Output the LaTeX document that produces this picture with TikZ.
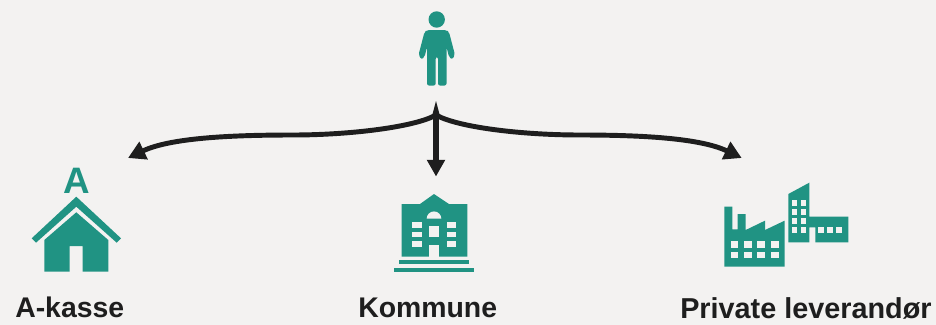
\documentclass[tikz,border=0pt]{standalone}
\usepackage{xcolor}
\usepackage{fontspec}
\setmainfont{Liberation Sans}
\usetikzlibrary{arrows.meta, positioning}
\definecolor{pagegray}{HTML}{F3F2F1}
\definecolor{iconteal}{HTML}{209383}
\definecolor{inkblack}{HTML}{1E1E1E}
\begin{document}
\begin{tikzpicture}[
  x=0.75pt, y=-0.75pt,
  caption/.style={inkblack, font=\fontsize{21.3pt}{24pt}\selectfont\bfseries, anchor=base west, inner sep=0pt},
  icon/.style={fill=iconteal},
  hole/.style={fill=pagegray},
  branch/.style={draw=inkblack, line width=3.7pt, -{Triangle[length=13pt, width=14pt]}}
]
  \useasboundingbox (0,0) rectangle (936,325);
  \fill[pagegray] (0,0) rectangle (936,325);

  % person
  \fill[icon] (436.7,19.5) circle (8.2);
  \fill[icon, rounded corners=1.5pt] (427,30) -- (446.5,30) -- (449,32) -- (455,55) -- (452,59.5) -- (449,57) -- (446.5,47)
    -- (446.5,85.5) -- (438,85.5) -- (438,57) -- (435.7,57) -- (435.7,85.5) -- (427,85.5) -- (427,47) -- (424.5,57) -- (421.5,59.5) -- (418.5,55) -- (424.5,32) -- cycle;

  % a-kasse house
  \node[iconteal, font=\fontsize{27.6pt}{28pt}\selectfont\bfseries, anchor=base, inner sep=0pt] (letter) at (76.5,193) {A};
  \fill[icon] (76.3,196.7) -- (121,238.3) -- (116.7,242.7) -- (76.3,206.7) -- (36,242.7) -- (31.7,238.3) -- cycle;
  \fill[icon] (76.3,212.3) -- (108.3,240) -- (108.3,271.7) -- (82.7,271.7) -- (82.7,246) -- (69.7,246) -- (69.7,271.7) -- (44.3,271.7) -- (44.3,240) -- cycle;

  % kommune building
  \fill[icon] (401.7,204) -- (420,204) -- (434,194) -- (449,204) -- (467.3,204) -- (467.3,256.7) -- (401.7,256.7) -- cycle;
  \fill[hole] (426.7,218.7) arc (180:360:7.3) -- cycle;
  \fill[hole] (429,225.7) rectangle (439.3,237.3);
  \fill[hole] (429,245) rectangle (439.3,256.7);
  \foreach \rowy in {222.3,231.7,241.3} {
    \fill[hole] (412.3,\rowy) rectangle +(9.4,5.4);
    \fill[hole] (447.3,\rowy) rectangle +(8.7,5.4);
  }
  \fill[icon] (399.3,260) rectangle (469,264.3);
  \fill[icon] (394,267.7) rectangle (474.3,272);

  % factories
  \begin{scope}[shift={(700,170)}, x=0.25pt, y=-0.25pt]
    \fill[icon] (73,110) -- (97,110) -- (97,178) -- (113,178) -- (113,132) -- (137,132) -- (137,180) -- (195,152) -- (195,180)
      -- (254,152) -- (254,290) -- (73,290) -- cycle;
    \foreach \colx in {92,132,172,213} {
      \fill[hole] (\colx,214) rectangle +(23,19);
      \fill[hole] (\colx,246) rectangle +(23,18);
    }
    \fill[icon] (265,72) -- (328,38) -- (328,140) -- (445,140) -- (445,217) -- (346,217) -- (346,172) -- (328,172) -- (328,217) -- (265,217) -- cycle;
    \foreach \rowy in {91,118,145,172} {
      \fill[hole] (275,\rowy) rectangle +(17,17);
      \fill[hole] (302,\rowy) rectangle +(17,17);
    }
    \foreach \colx in {355,382,409} {
      \fill[hole] (\colx,172) rectangle +(17,17);
    }
  \end{scope}

  % arrows
  \coordinate (fork) at (436,115);
  \coordinate (forktop) at (436,101);
  \coordinate (akassetip) at (128,158);
  \coordinate (kommunetip) at (436,176.5);
  \coordinate (levertip) at (741.7,158);
  \fill[inkblack] (forktop) -- (440.5,118) -- (431.5,118) -- cycle;
  \draw[branch] (fork) .. controls (415,127) and (350,135) .. (293,135)
    .. controls (230,135) and (170,138) .. (akassetip);
  \draw[branch] (fork) .. controls (457,127) and (520,135) .. (580,135)
    .. controls (640,135) and (700,138) .. (levertip);
  \draw[draw=inkblack, line width=4.4pt, -{Triangle[length=12.5pt, width=13pt]}] (fork) -- (kommunetip);

  % labels
  \node[caption] (akasse) at (15,317) {A-kasse};
  \node[caption] (kommune) at (358,317.5) {Kommune};
  \node[caption, font=\fontsize{21.6pt}{24pt}\selectfont\bfseries] (leverandor) at (680,318.5) {Private leverandør};
\end{tikzpicture}
\end{document}
